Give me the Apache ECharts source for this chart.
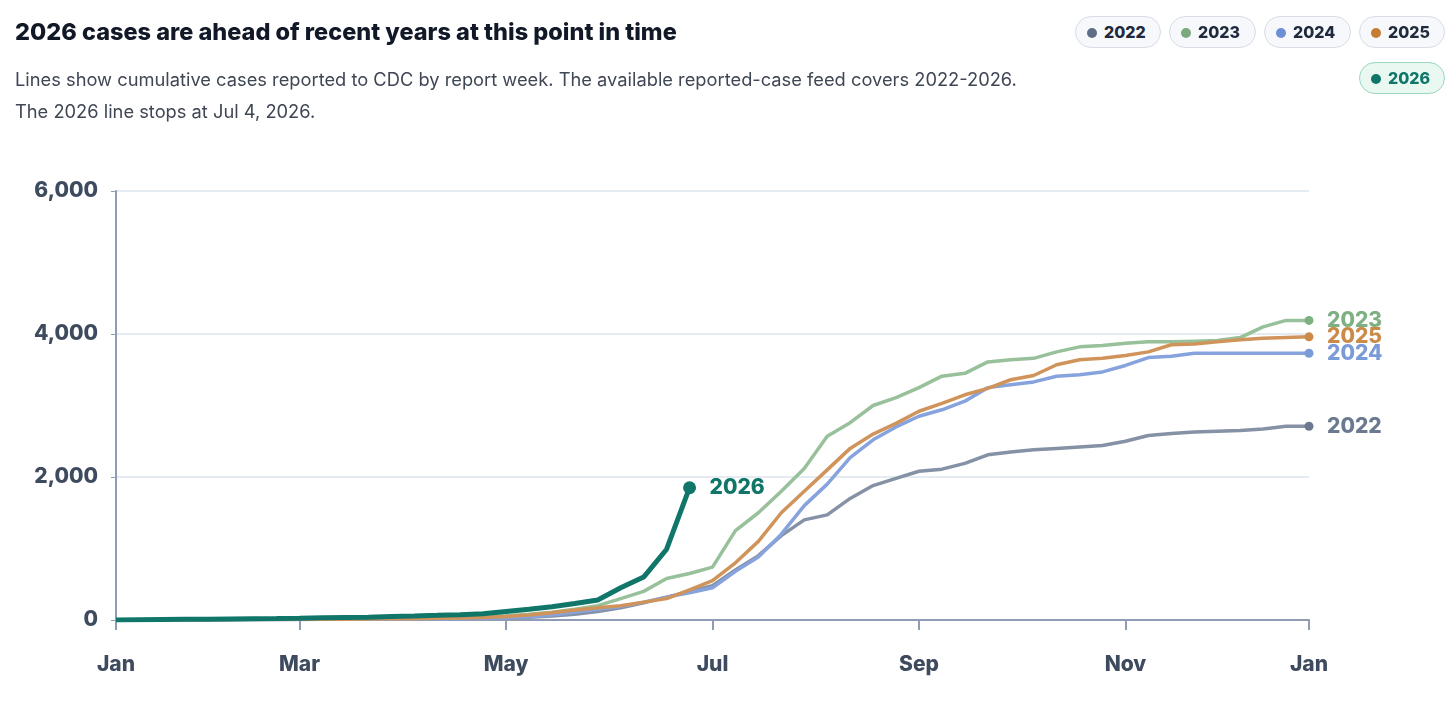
<html>
<head>
<meta charset="utf-8">
<script src="https://cdn.jsdelivr.net/npm/echarts@6/dist/echarts.min.js"></script>
<style>
body{margin:0;font-family:Inter,"Noto Sans",sans-serif;background:#fff;width:1456px;height:708px;position:relative;overflow:hidden}
#t{position:absolute;left:15px;top:17px;font-size:23.5px;font-weight:800;color:#111827}
#s{position:absolute;left:15px;top:63px;font-size:18.3px;line-height:32px;color:#3f4654}
.p{position:absolute;height:32px;border:1px solid #d6dde6;border-radius:17px;background:#f6f8fb;font-size:16px;font-weight:800;color:#1f2a3c;box-sizing:border-box;padding:0 11px;line-height:30px}
.p i{display:inline-block;width:10px;height:10px;border-radius:5px;margin-right:7px;vertical-align:0}
#chart{position:absolute;left:0;top:0;width:1456px;height:708px}
</style>
</head>
<body>
<div id="chart"></div>
<div id="t">2026 cases are ahead of recent years at this point in time</div>
<div id="s">Lines show cumulative cases reported to CDC by report week. The available reported-case feed covers 2022-2026.<br>The 2026 line stops at Jul 4, 2026.</div>
<div class="p" style="left:1075px;top:16px;width:86px"><i style="background:#5f6e87"></i>2022</div>
<div class="p" style="left:1169px;top:16px;width:87px"><i style="background:#7aa97e"></i>2023</div>
<div class="p" style="left:1264px;top:16px;width:87px"><i style="background:#6d8fd6"></i>2024</div>
<div class="p" style="left:1359px;top:16px;width:86px"><i style="background:#c57d34"></i>2025</div>
<div class="p" style="left:1359px;top:62px;width:86px;background:#e9f8f1;border-color:#9ad7bd;color:#11766a"><i style="background:#11766a"></i>2026</div>
<script>
var weeks = [];
for (var i = 0; i <= 52; i++) weeks.push(i);
var monthTicks = [0, 8, 17, 26, 35, 44, 52];
var monthNames = ['Jan', 'Mar', 'May', 'Jul', 'Sep', 'Nov', 'Jan'];
var yTicks = [0, 2000, 4000, 6000];

var c2022 = [0,2,4,5,6,8,9,10,11,12,13,14,15,17,19,21,25,30,40,55,80,120,170,240,320,400,480,700,900,1180,1400,1470,1700,1880,1980,2080,2110,2190,2310,2350,2380,2400,2420,2440,2500,2580,2610,2630,2640,2650,2670,2710,2710];
var c2023 = [0,3,5,7,9,11,13,15,17,19,22,25,28,32,37,43,50,60,80,110,150,200,300,400,580,650,740,1250,1500,1800,2120,2570,2760,3000,3110,3250,3410,3450,3610,3640,3660,3750,3820,3840,3870,3890,3890,3900,3910,3950,4100,4190,4190];
var c2024 = [0,1,2,3,4,5,6,7,8,9,10,11,12,14,16,19,24,30,45,70,110,150,190,250,320,380,450,680,880,1200,1600,1900,2270,2520,2700,2850,2940,3060,3250,3290,3330,3410,3430,3470,3560,3670,3690,3730,3730,3730,3730,3730,3730];
var c2025 = [0,2,3,4,5,6,7,8,9,10,12,14,16,19,23,28,35,50,70,100,140,170,200,250,300,420,550,800,1100,1500,1800,2100,2400,2600,2750,2920,3030,3150,3240,3360,3420,3570,3640,3660,3700,3750,3850,3860,3890,3920,3940,3950,3960];
var c2026 = [0,3,6,9,12,15,18,21,25,30,35,40,48,56,65,75,88,120,150,185,230,280,450,600,990,1850];

var years = ['2022', '2023', '2024', '2025', '2026'];
var colors = ['#6b7a90', '#7fb083', '#7b9ad8', '#cb8a47', '#11766a'];
var lineColors = ['#8591a5', '#98c09a', '#87a3dd', '#d0945a', '#11766a'];
var allData = [c2022, c2023, c2024, c2025, c2026];

var series = years.map(function (y, k) {
  var d = allData[k];
  var last = d.length - 1;
  var isNew = y === '2026';
  return {
    name: y, type: 'line', z: isNew ? 10 : 2,
    data: d.map(function (v, i) { return [weeks[i], v]; }),
    symbol: 'circle',
    symbolSize: function (v, p) { return p.dataIndex === last ? (isNew ? 13 : 9) : 0; },
    itemStyle: { color: colors[k] },
    lineStyle: { color: lineColors[k], width: isNew ? 5 : 3.5 },
    endLabel: { show: true, formatter: y, color: colors[k], fontSize: 21, fontWeight: 800, offset: [isNew ? 12 : 10, 0],
      fontFamily: 'Inter' },
    animation: false
  };
});

var chart = echarts.init(document.getElementById('chart'));
chart.setOption({
  animation: false,
  grid: { left: 116, right: 147, top: 191, bottom: 88 },
  xAxis: {
    type: 'value', min: 0, max: 52,
    axisLine: { lineStyle: { color: '#8f9cb3', width: 2 } },
    axisTick: { show: true, customValues: monthTicks, length: 10, lineStyle: { color: '#8f9cb3', width: 2 } },
    axisLabel: { customValues: monthTicks, margin: 34, color: '#3e4a5e', fontSize: 21, fontWeight: 800, fontFamily: 'Inter',
      formatter: function (v) { return monthNames[monthTicks.indexOf(v)]; } },
    splitLine: { show: false }
  },
  yAxis: {
    type: 'value', min: 0, max: 6000, interval: 2000,
    axisLine: { show: true, lineStyle: { color: '#8f9cb3', width: 2 } },
    axisLabel: { color: '#3e4a5e', fontSize: 21, fontWeight: 800, margin: 18, fontFamily: 'Inter',
      formatter: function (v) { return yTicks.indexOf(v) >= 0 ? v.toLocaleString('en-US') : ''; } },
    splitLine: { lineStyle: { color: '#dbe5ee', width: 1.5 } }
  },
  series: series
});
</script>
</body>
</html>
